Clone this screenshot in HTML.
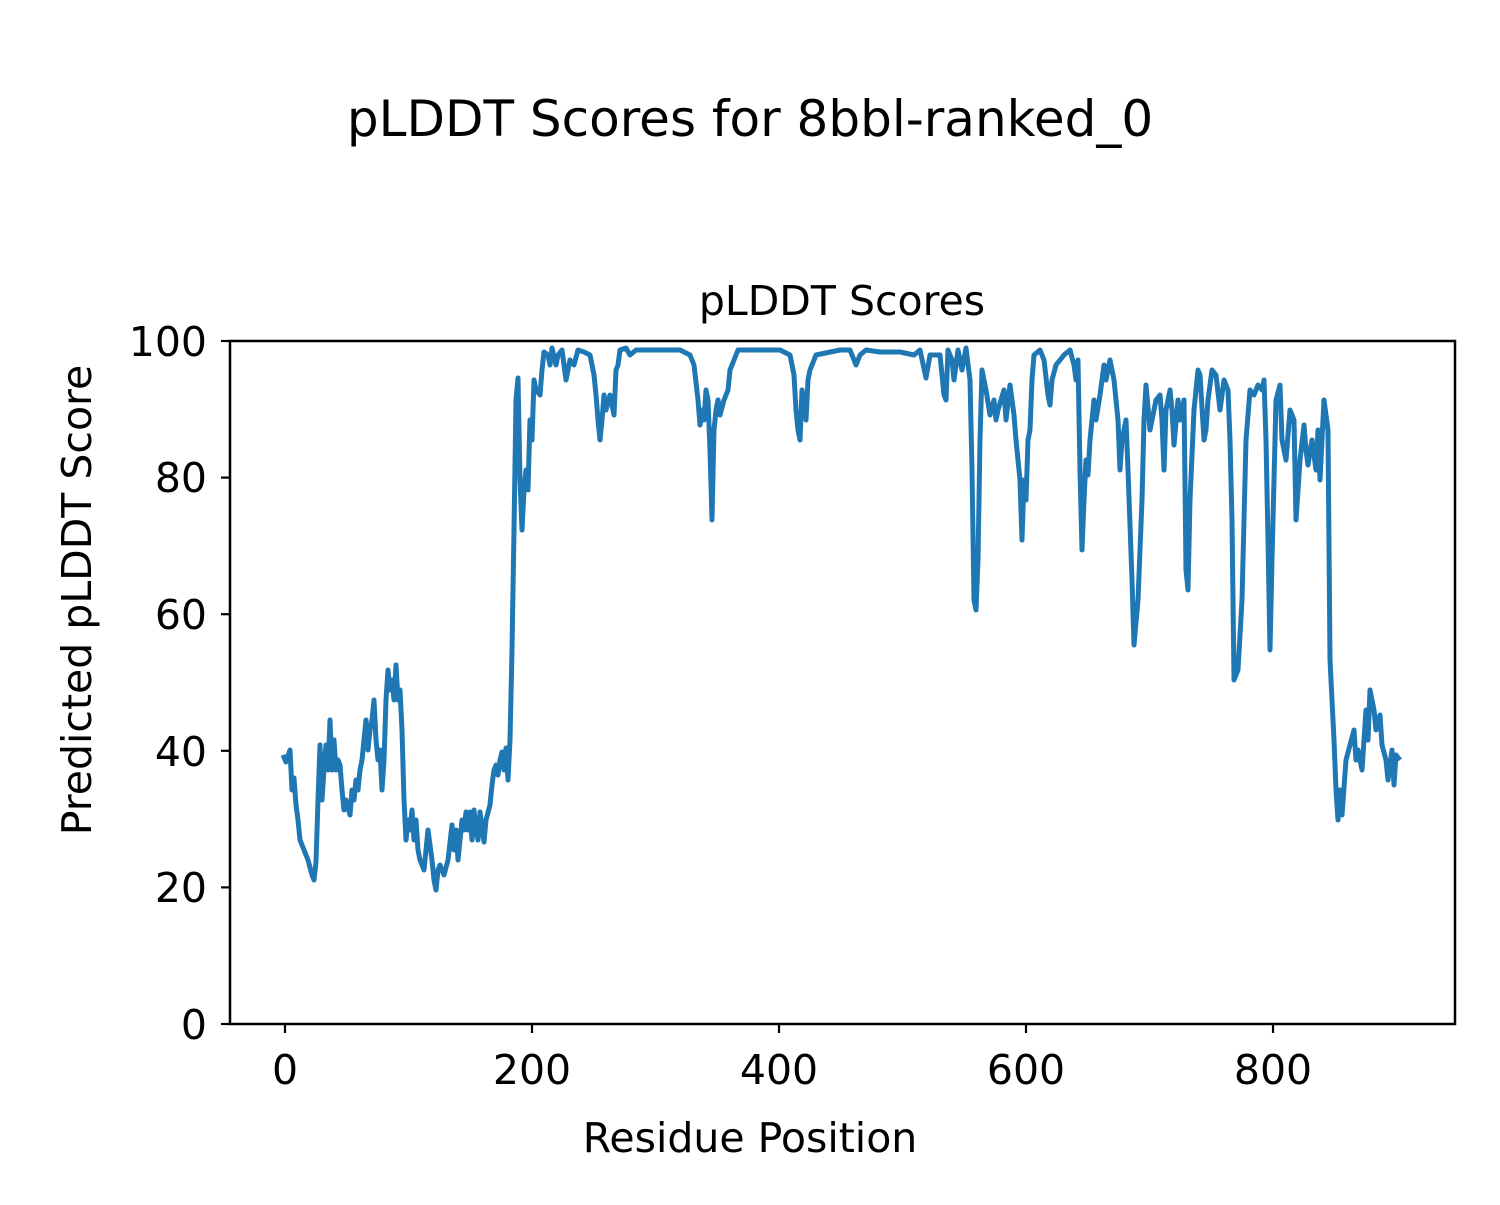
<!DOCTYPE html>
<html><head><meta charset="utf-8"><style>
html,body{margin:0;padding:0;background:#fff;}
svg text{font-family:"DejaVu Sans","Liberation Sans",sans-serif;fill:#000;}
</style></head><body>
<svg width="1500" height="1200" viewBox="0 0 1500 1200" xmlns="http://www.w3.org/2000/svg">
<rect width="1500" height="1200" fill="#fff"/>
<text x="750" y="136" font-size="50" text-anchor="middle">pLDDT Scores for 8bbl-ranked_0</text>
<text x="842" y="315" font-size="41" text-anchor="middle">pLDDT Scores</text>
<polyline fill="none" stroke="#1f77b4" stroke-width="5" stroke-linejoin="round" points="283,755 286,762 290,750 292,790 294,778 296,805 298,820 300,840 304,850 308,860 312,875 314,880 316,862 318,800 320,745 322,800 324,770 326,745 328,770 330,720 332,770 334,740 336,770 338,760 340,765 342,790 344,810 346,800 350,815 352,790 354,800 356,780 358,790 360,770 362,760 364,740 366,720 368,750 370,730 372,720 374,700 376,740 378,760 380,750 382,790 384,760 386,700 388,670 390,690 392,680 394,700 396,665 398,700 400,690 402,730 404,800 406,840 408,820 410,830 412,810 414,840 416,820 418,850 420,860 424,870 428,830 432,860 434,880 436,890 438,870 440,865 444,875 448,860 452,825 454,850 456,830 458,860 460,840 462,820 464,830 466,812 468,830 470,812 472,840 474,810 476,830 478,840 480,812 484,842 486,820 490,805 492,785 494,770 496,765 498,775 500,760 502,752 504,770 506,748 508,780 510,740 512,650 514,530 516,400 518,378 520,480 522,530 524,490 526,470 528,490 530,420 532,440 534,380 536,390 540,395 542,370 544,352 548,355 550,365 552,348 556,365 558,355 562,350 566,380 570,360 574,365 578,350 584,352 590,355 594,375 596,395 598,420 600,440 602,420 604,395 606,410 610,395 614,415 616,370 618,365 620,350 626,348 630,355 636,350 650,350 660,350 680,350 690,355 694,365 698,400 700,425 702,410 704,420 706,390 708,400 710,450 712,520 714,430 716,410 718,400 720,415 724,400 728,390 730,370 734,360 738,350 760,350 780,350 790,355 794,375 796,410 798,430 800,440 802,390 804,410 806,420 808,380 810,370 816,355 840,350 850,350 856,365 860,355 866,350 880,352 900,352 914,355 920,350 926,378 930,355 940,355 944,395 946,400 948,350 952,360 954,380 958,350 962,370 966,348 970,380 972,470 974,600 976,610 978,560 980,440 982,370 986,390 990,415 994,400 996,420 998,410 1004,390 1006,420 1010,385 1014,415 1016,440 1018,460 1020,480 1022,540 1024,480 1026,500 1028,440 1030,430 1032,380 1034,355 1040,350 1044,360 1048,395 1050,405 1052,380 1056,365 1064,355 1070,350 1074,365 1076,380 1078,360 1080,470 1082,550 1084,500 1086,460 1088,475 1090,440 1094,400 1096,420 1100,395 1104,365 1106,380 1110,360 1114,380 1116,400 1118,420 1120,470 1122,440 1124,430 1126,420 1128,470 1132,580 1134,645 1138,600 1142,500 1144,420 1146,385 1150,430 1156,400 1160,395 1162,420 1164,470 1166,410 1170,390 1172,410 1174,445 1178,400 1180,420 1184,400 1186,570 1188,590 1190,500 1194,410 1198,370 1200,375 1204,440 1206,430 1208,400 1210,385 1212,370 1216,375 1220,410 1224,380 1228,390 1230,440 1232,520 1234,680 1238,670 1242,600 1246,440 1250,390 1254,395 1258,385 1262,390 1264,380 1266,440 1268,540 1270,650 1272,560 1276,400 1280,385 1282,440 1286,460 1290,410 1294,420 1296,520 1300,460 1304,425 1306,450 1308,465 1312,440 1316,470 1318,430 1320,480 1322,440 1324,400 1328,430 1330,660 1334,740 1336,790 1338,820 1340,790 1342,815 1346,760 1350,745 1354,730 1356,760 1358,750 1362,770 1366,710 1368,740 1370,690 1374,710 1376,730 1380,715 1382,745 1386,760 1388,780 1392,750 1394,785 1396,755 1400,760"/>
<rect x="230" y="341" width="1225" height="683" fill="none" stroke="#000" stroke-width="2.5"/>
<g stroke="#000" stroke-width="2.2">
<line x1="285" y1="1024" x2="285" y2="1033"/>
<line x1="532" y1="1024" x2="532" y2="1033"/>
<line x1="779" y1="1024" x2="779" y2="1033"/>
<line x1="1026" y1="1024" x2="1026" y2="1033"/>
<line x1="1273" y1="1024" x2="1273" y2="1033"/>
<line x1="221" y1="1024" x2="230" y2="1024"/>
<line x1="221" y1="887.4" x2="230" y2="887.4"/>
<line x1="221" y1="750.8" x2="230" y2="750.8"/>
<line x1="221" y1="614.2" x2="230" y2="614.2"/>
<line x1="221" y1="477.6" x2="230" y2="477.6"/>
<line x1="221" y1="341" x2="230" y2="341"/>
</g>
<g font-size="41" text-anchor="middle">
<text x="285" y="1084">0</text>
<text x="532" y="1084">200</text>
<text x="779" y="1084">400</text>
<text x="1026" y="1084">600</text>
<text x="1273" y="1084">800</text>
</g>
<g font-size="41" text-anchor="end">
<text x="207" y="1039">0</text>
<text x="207" y="902">20</text>
<text x="207" y="766">40</text>
<text x="207" y="629">60</text>
<text x="207" y="492">80</text>
<text x="207" y="356">100</text>
</g>
<text x="750" y="1152" font-size="41" text-anchor="middle">Residue Position</text>
<text transform="translate(91,600) rotate(-90)" font-size="41" text-anchor="middle">Predicted pLDDT Score</text>
</svg>
</body></html>
